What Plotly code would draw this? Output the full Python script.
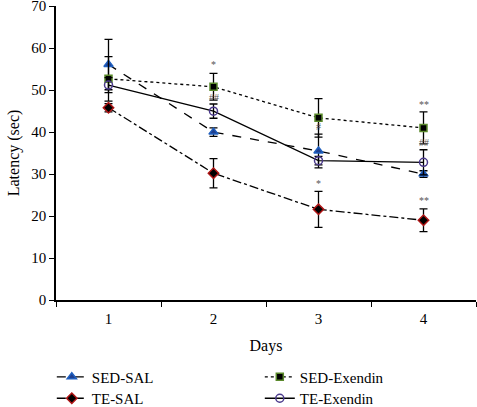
import plotly.graph_objects as go

days = ["1", "2", "3", "4"]
sed_sal = [56.1, 40.0, 35.5, 30.0]
sed_sal_err = [6.0, 1.0, 4.0, 0.8]
sed_ex = [52.7, 50.8, 43.4, 41.0]
sed_ex_err = [5.3, 3.2, 4.6, 3.8]
te_sal = [45.8, 30.2, 21.6, 19.0]
te_sal_err = [1.0, 3.5, 4.3, 2.7]
te_ex = [51.2, 45.0, 33.2, 32.8]
te_ex_err = [1.8, 1.7, 1.0, 3.0]

sig_day = ["2", "2", "3", "3", "4", "4", "4"]
sig_y = [56.0, 48.3, 41.3, 27.8, 46.6, 37.6, 23.6]
sig_text = ["*", "##", "#", "*", "**", "##", "**"]

font_family = "Liberation Serif, DejaVu Serif, serif"

fig = go.Figure()

def add(name, y, err, dash, symbol, fill, edge, size, legend):
    fig.add_trace(go.Scatter(
        x=days, y=y, name=name, mode="lines+markers", legend=legend,
        line=dict(color="black", width=1.3, dash=dash),
        marker=dict(symbol=symbol, size=size, color=fill,
                    line=dict(color=edge, width=1.5)),
        error_y=dict(type="data", array=err, visible=True,
                     color="black", thickness=1.3, width=4),
    ))

add("SED-SAL", sed_sal, sed_sal_err, "dash", "triangle-up", "#1f3f8f", "#1f5fbf", 8, "legend")
add("SED-Exendin", sed_ex, sed_ex_err, "dot", "square", "black", "#5b8a2c", 7, "legend")
add("TE-SAL", te_sal, te_sal_err, "dashdot", "diamond", "black", "#b01515", 8, "legend2")
add("TE-Exendin", te_ex, te_ex_err, "solid", "circle-open", "#4b3a8c", "#4b3a8c", 8, "legend2")

for dd, yy, tt in zip(sig_day, sig_y, sig_text):
    fig.add_annotation(x=days.index(dd), y=yy, text=tt, showarrow=False,
                       font=dict(family=font_family, size=10, color="#555"))

legend_common = dict(orientation="h", x=-0.01, xanchor="left", yanchor="middle",
                     entrywidth=163, entrywidthmode="pixels",
                     font=dict(family=font_family, size=15, color="black"),
                     itemwidth=30, bgcolor="rgba(0,0,0,0)")

fig.update_layout(
    width=477, height=407,
    margin=dict(l=56, r=1, t=6, b=107, autoexpand=False),
    paper_bgcolor="white", plot_bgcolor="white",
    font=dict(family=font_family, size=14, color="black"),
    showlegend=True,
    legend=dict(y=-0.262, **legend_common),
    legend2=dict(y=-0.335, **legend_common),
    xaxis=dict(type="category", tickson="boundaries", ticks="outside", ticklen=5,
               tickcolor="black", showline=True, linecolor="black", linewidth=1.5,
               showgrid=False, zeroline=False, range=[-0.5, 3.5], automargin=False,
               ticklabelstandoff=4,
               title=dict(text="Days", standoff=14, font=dict(size=16)),
               tickfont=dict(family=font_family, size=15)),
    yaxis=dict(range=[0, 70.05], tickvals=[0, 10, 20, 30, 40, 50, 60, 70],
               ticks="outside", ticklen=5, automargin=False,
               ticklabeloverflow="allow",
               tickcolor="black", showline=True, linecolor="black", linewidth=1.5,
               showgrid=False, zeroline=False,
               title=dict(text="Latency (sec)", standoff=8, font=dict(size=16)),
               tickfont=dict(family=font_family, size=15)),
)

fig.write_html("out.html", config={"displayModeBar": False},
               post_script="document.body.style.margin='0';document.body.style.overflow='hidden';")
